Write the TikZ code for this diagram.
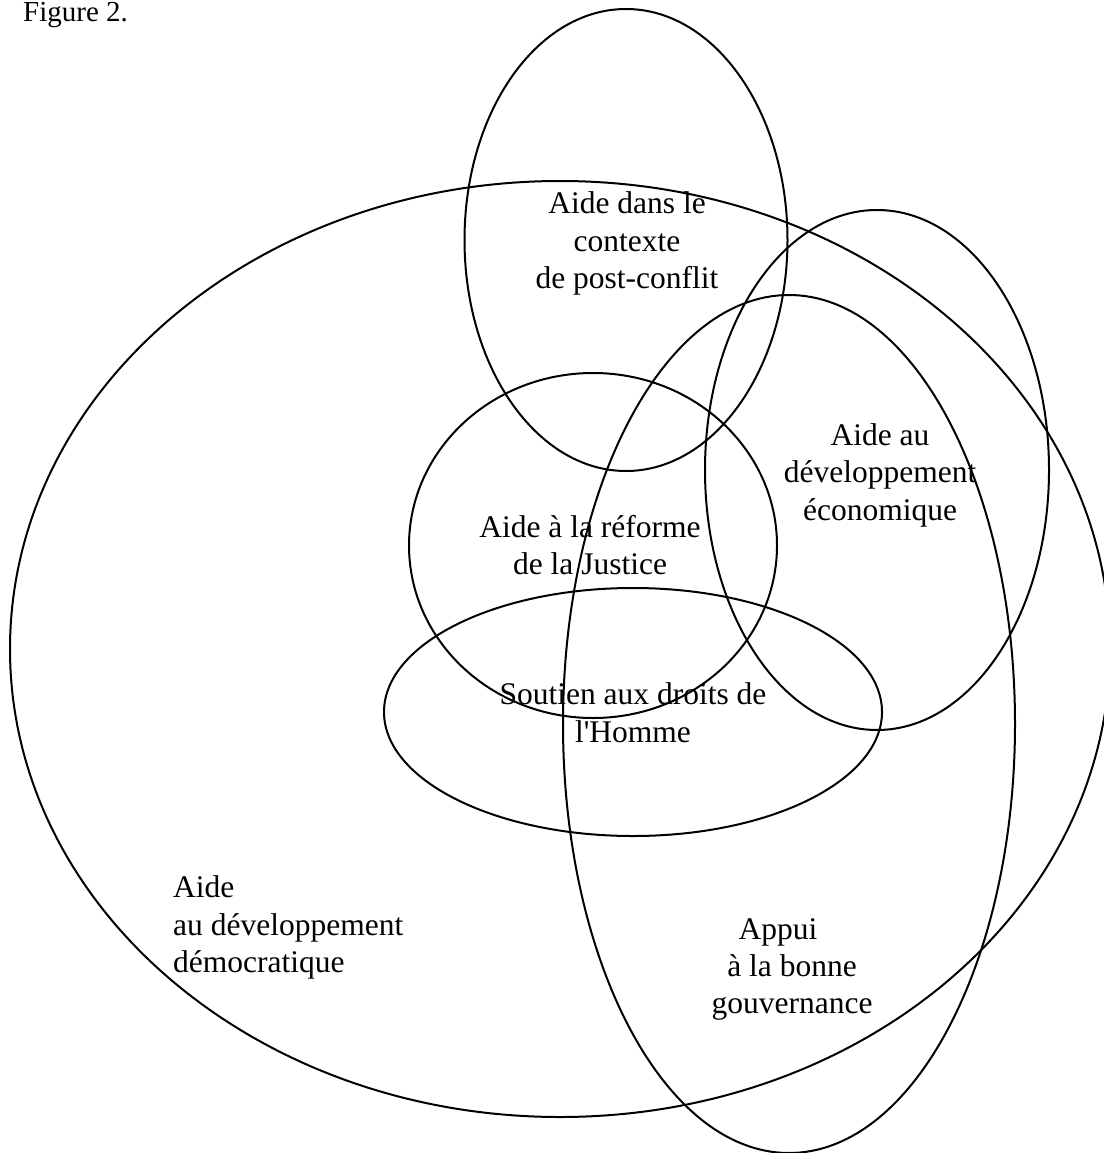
\documentclass[tikz,border=0pt]{standalone}
\usepackage{fontspec}
\setmainfont{Liberation Serif}
\begin{document}
\begin{tikzpicture}[x=1pt,y=-1pt,
  venn/.style={line width=2pt},
  lbl/.style={inner sep=0pt, anchor=base, font=\fontsize{31.5}{38}\selectfont},
  lblw/.style={lbl, anchor=base west}]
\useasboundingbox (0,0) rectangle (1103,1153);
% ellipses
\draw[venn] (560,649) ellipse [x radius=550pt, y radius=468pt];
\draw[venn] (626,240) ellipse [x radius=161.5pt, y radius=231pt];
\draw[venn] (877,470) ellipse [x radius=172pt, y radius=260pt];
\draw[venn] (789,724) ellipse [x radius=226pt, y radius=429pt];
\draw[venn] (593,545.5) ellipse [x radius=184pt, y radius=172.5pt];
\draw[venn] (633,712) ellipse [x radius=249pt, y radius=124pt];
% texts
\node[lblw, font=\fontsize{29}{35}\selectfont] (fig) at (23,22) {Figure 2.};
\node[lbl] (pc1) at (627,213) {Aide dans le};
\node[lbl] (pc2) at (627,251) {contexte};
\node[lbl] (pc3) at (627,288) {de post-conflit};
\node[lbl] (ec1) at (880,445) {Aide au};
\node[lbl] (ec2) at (880,482) {développement};
\node[lbl] (ec3) at (880,520) {économique};
\node[lbl] (ju1) at (590,537) {Aide à la réforme};
\node[lbl] (ju2) at (590,574) {de la Justice};
\node[lbl] (dh1) at (633,704) {Soutien aux droits de};
\node[lbl] (dh2) at (633,742) {l\textquotesingle Homme};
\node[lblw] (dd1) at (173,897) {Aide};
\node[lblw] (dd2) at (173,935) {au développement};
\node[lblw] (dd3) at (173,972) {démocratique};
\node[lbl] (bg1) at (778,939) {Appui};
\node[lbl] (bg2) at (792,976) {à la bonne};
\node[lbl] (bg3) at (792,1013) {gouvernance};
\end{tikzpicture}
\end{document}
